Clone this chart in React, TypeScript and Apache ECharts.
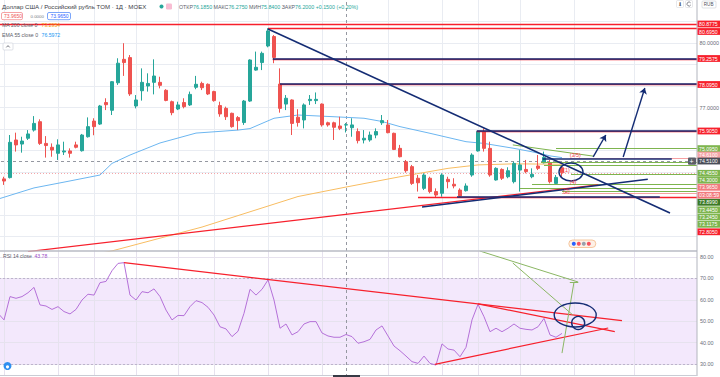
import React, { useEffect, useRef } from "react";
import * as echarts from "echarts";

// ---------- data ----------
const SLOT_COUNT = 117; // candles + empty space to the right
const CATEGORIES = Array.from({ length: SLOT_COUNT }, (_, i) => String(i));

// [open, close, low, high]
const CANDLES: [number, number, number, number][] = [
  [74.25, 74.09, 74.0, 74.35],
  [73.68, 73.58, 73.4, 73.78],
  [73.74, 75.38, 73.7, 75.72],
  [75.49, 75.26, 74.95, 75.83],
  [75.3, 75.44, 74.9, 75.64],
  [75.57, 75.77, 75.49, 75.95],
  [75.95, 76.26, 75.88, 76.6],
  [76.34, 75.33, 75.26, 76.45],
  [75.33, 75.23, 74.67, 75.67],
  [75.15, 75.02, 74.71, 75.33],
  [74.87, 75.26, 74.56, 75.52],
  [74.93, 74.98, 74.79, 75.41],
  [74.98, 74.87, 74.67, 75.1],
  [75.26, 75.15, 75.1, 75.41],
  [74.99, 75.72, 74.95, 75.77],
  [75.64, 76.11, 75.6, 76.54],
  [76.37, 76.11, 75.71, 76.5],
  [76.23, 77.07, 76.19, 77.12],
  [77.23, 77.13, 76.88, 77.43],
  [76.87, 78.2, 76.65, 78.23],
  [78.15, 79.06, 78.05, 79.29],
  [79.24, 79.09, 78.47, 79.99],
  [79.32, 77.63, 77.54, 79.44],
  [77.07, 77.35, 76.96, 77.58],
  [77.78, 78.17, 77.32, 78.82],
  [78.0, 78.12, 77.74, 78.59],
  [78.17, 78.465, 77.61, 79.24],
  [78.17, 78.03, 77.89, 78.43],
  [77.8, 77.33, 77.29, 77.85],
  [77.27, 76.76, 76.64, 77.32],
  [76.93, 77.12, 76.88, 77.27],
  [77.23, 77.04, 76.96, 77.43],
  [77.12, 77.61, 77.07, 77.74],
  [77.94, 78.08, 77.85, 78.47],
  [78.12, 77.92, 77.81, 78.2],
  [78.08, 77.63, 77.58, 78.12],
  [77.74, 77.32, 77.27, 77.78],
  [77.09, 76.7, 76.57, 77.27],
  [76.96, 76.57, 76.42, 77.04],
  [76.73, 76.11, 76.06, 76.76],
  [76.53, 76.39, 75.95, 76.6],
  [76.3, 77.3, 76.19, 77.35],
  [77.3, 79.21, 77.26, 79.24],
  [78.74, 78.87, 78.71, 79.6],
  [79.09, 79.52, 78.74, 79.6],
  [79.86, 80.56, 79.8, 80.69],
  [80.3, 79.33, 79.06, 80.37],
  [78.09, 76.96, 76.76, 78.82],
  [77.16, 77.43, 76.88, 77.58],
  [77.35, 76.26, 75.72, 77.38],
  [76.55, 76.3, 76.11, 76.92],
  [76.42, 77.12, 76.03, 77.19],
  [77.32, 77.38, 77.12, 77.58],
  [77.32, 77.38, 77.16, 77.7],
  [77.16, 76.19, 76.11, 77.19],
  [76.29, 76.19, 76.11, 76.34],
  [76.29, 76.08, 75.49, 76.34],
  [76.14, 76.03, 75.95, 76.57],
  [76.185, 76.2, 75.84, 76.275],
  [76.06, 76.19, 75.64, 76.5],
  [75.88, 75.46, 75.33, 76.03],
  [75.49, 75.57, 75.33, 75.95],
  [75.49, 75.72, 75.41, 75.88],
  [75.72, 75.88, 75.57, 76.03],
  [76.29, 76.39, 76.19, 76.65],
  [76.19, 75.83, 75.8, 76.42],
  [75.8, 75.05, 75.02, 75.83],
  [75.1, 74.71, 74.68, 75.26],
  [74.48, 74.06, 73.97, 74.56],
  [74.25, 73.47, 73.4, 74.33],
  [73.71, 73.5, 73.09, 73.86],
  [73.24, 73.86, 73.16, 73.94],
  [73.71, 73.09, 73.01, 73.78],
  [73.09, 72.93, 72.805, 73.24],
  [73.01, 73.86, 72.85, 73.94],
  [73.66, 73.55, 73.24, 73.78],
  [73.43, 73.35, 73.24, 73.71],
  [73.16, 72.88, 72.81, 73.24],
  [73.13, 73.35, 73.09, 73.47],
  [73.86, 74.79, 73.78, 74.87],
  [74.98, 75.88, 74.95, 75.905],
  [75.88, 75.1, 74.95, 76.03],
  [75.1, 73.86, 73.78, 75.41],
  [73.63, 74.17, 73.6, 74.22],
  [74.12, 73.71, 73.63, 74.17],
  [73.78, 74.06, 73.71, 74.22],
  [73.55, 74.4, 73.47, 74.48],
  [74.09, 74.33, 73.09, 75.02],
  [74.12, 74.02, 73.94, 74.56],
  [73.78, 73.89, 73.71, 74.17],
  [74.28, 74.17, 74.09, 74.79],
  [74.43, 74.68, 74.4, 74.95],
  [74.43, 73.55, 73.47, 74.56],
  [73.47, 73.75, 73.44, 73.86],
  [74.2, 73.965, 73.8, 74.25],
];

const RSI_VALUES: number[] = [
  53.7, 50.6, 61.5, 60.7, 61.5, 63.3, 65.8, 57.6, 57.1, 55.5,
  56.8, 54.5, 53.4, 55.5, 59.9, 62.6, 62.2, 68.0, 68.6, 73.6,
  77.0, 77.35, 62.2, 59.9, 63.8, 63.3, 65.1, 61.5, 55.2, 50.6,
  52.7, 52.6, 56.8, 59.6, 58.7, 56.5, 52.9, 47.4, 46.4, 42.8,
  45.3, 53.7, 64.9, 62.2, 64.9, 69.3, 59.9, 46.7, 48.7, 43.6,
  45.1, 48.7, 49.8, 49.8, 44.5, 43.1, 42.5, 42.5, 43.78, 42.8,
  39.7, 40.4, 41.5, 45.9, 47.8, 43.1, 38.4, 36.2, 33.7, 31.1,
  30.3, 33.7, 30.3, 29.5, 39.4, 37.0, 36.5, 33.4, 37.8, 50.6,
  57.9, 52.1, 45.1, 46.7, 45.1, 46.7, 48.7, 46.7, 46.2, 45.9,
  47.4, 51.3, 43.6, 42.5, 44.3,
];

// [bar index, value]
const EMA55: [number, number][] = [
  [0, 72.74], [6, 73.26], [11, 73.53], [17, 73.86], [19, 74.4], [22, 74.79],
  [27, 75.35], [33, 75.81], [40, 75.95], [42, 76.02], [46, 76.5], [50, 76.65],
  [56, 76.57], [61, 76.5], [64, 76.35], [67, 76.11], [72, 75.8], [78, 75.41],
  [81, 75.33], [86, 75.1], [89, 74.94], [92, 74.75], [94, 74.67],
];
const MA200: [number, number][] = [
  [12, 69.95], [19, 70.33], [34, 71.44], [50, 72.86], [58, 73.3], [67, 73.78],
  [75, 74.17], [80, 74.33], [86, 74.38], [94, 74.36],
];

const PRICE_GRID = [71, 72, 73, 74, 75, 76, 77, 78, 79, 80, 81];
const PRICE_LABELS = [72, 73, 74, 75, 76, 77, 78, 79, 80, 81];
const RSI_GRID = [30, 40, 50, 60, 70, 80];
const VGRID = [1, 10, 16, 23, 30, 36, 45, 54, 65, 74, 80, 87, 96, 106];

const CROSS_BAR = 58;
const CROSS_PRICE = 74.51;
const LAST_PRICE = 73.965;

// user drawings, in [bar index, price]
const NAVY_SEGMENTS: [number, number][][] = [
  [[45, 80.65], [112, 72.09]],
  [[45.8, 79.285], [116.5, 79.285]],
  [[47, 78.12], [116.5, 78.12]],
  [[79.8, 75.93], [116.5, 75.93]],
  [[90.8, 74.62], [112.3, 74.62]],
  [[70.67, 72.37], [108.3, 73.66]],
  [[76.5, 72.83], [110.3, 72.83]],
];
const RED_SEGMENTS: [number, number][][] = [
  [[-0.5, 80.8775], [116.5, 80.8775]],
  [[45, 80.695], [116.5, 80.695]],
  [[45.8, 79.2575], [116.5, 79.2575]],
  [[47, 78.095], [116.5, 78.095]],
  [[79.8, 75.905], [116.5, 75.905]],
  [[70, 72.805], [116.5, 72.805]],
  [[5, 70.3], [100, 73.4]],
];
const PINK_SEGMENTS: [number, number][][] = [
  [[95.3, 74.66], [116.5, 74.66]],
  [[94, 73.01], [116.5, 73.01]],
];
const GREEN_SEGMENTS: [number, number][][] = [
  [[93, 75.095], [116.5, 75.095]],
  [[90.5, 74.455], [116.5, 74.455]],
  [[91, 74.3], [116.5, 74.3]],
  [[95.5, 73.899], [116.5, 73.899]],
  [[89, 73.445], [116.5, 73.445]],
  [[87, 73.245], [116.5, 73.245]],
  [[94, 73.1175], [116.5, 73.1175]],
  [[85.8, 75.26], [99.2, 74.74]],
];
const ARROW_SEGMENTS: [number, number][][] = [
  [[99.2, 74.7], [101.3, 75.72]],
  [[104.2, 74.7], [107.8, 77.91]],
];
const NOTES: { text: string; at: [number, number] }[] = [
  { text: "(3/5)", at: [95.3, 74.79] },
  { text: "(1)", at: [94.2, 74.09] },
  { text: "(4)", at: [95.3, 73.53] },
  { text: "(2)", at: [94.2, 73.12] },
];
const MAIN_LOOP: [number, number] = [95.5, 74.0];

// RSI drawings, in [bar index, rsi]
const RSI_RED_SEGMENTS: [number, number][][] = [
  [[21, 77.34], [104, 50.23]],
  [[80, 58.1], [102.8, 45.1]],
  [[72.8, 29.86], [101.7, 46.82]],
];
const RSI_GREEN_SEGMENTS: [number, number][][] = [
  [[80.3, 82.8], [96.7, 68.3]],
  [[85.8, 77.2], [95.8, 52.9]],
  [[94, 35.1], [96, 68.3]],
  [[95.3, 68.3], [96.7, 68.3]],
];
const RSI_LOOP_BIG: [number, number] = [96.2, 52.9];
const RSI_LOOP_SMALL: [number, number] = [96.7, 49.2];

// price tags on the right scale
const PRICE_TAGS: { text: string; kind: string }[] = [
  { text: "80.8775", kind: "red" },
  { text: "80.6950", kind: "red" },
  { text: "79.2575", kind: "red" },
  { text: "78.0950", kind: "red" },
  { text: "75.9050", kind: "red" },
  { text: "75.0950", kind: "green" },
  { text: "74.6100", kind: "pink" },
  { text: "74.4550", kind: "green" },
  { text: "74.3000", kind: "green" },
  { text: "73.9650", kind: "cur" },
  { text: "03:08:59", kind: "cur" },
  { text: "73.8990", kind: "dkgreen" },
  { text: "73.4450", kind: "green" },
  { text: "73.2450", kind: "green" },
  { text: "73.1175", kind: "green" },
  { text: "72.8050", kind: "red" },
];
// stacked display positions (labels pushed apart by the scale)
const TAG_Y = [24, 31.5, 58.5, 84.5, 131, 148.6, 155.0, 173.3, 180.2, 187.3, 195.2, 202.3, 209.8, 217, 224.3, 231.8];

const TITLE = "Доллар США / Российский рубль TOM · 1Д · MOEX";
const OHLC: [string, string][] = [
  ["ОТКР", "76.1850"],
  ["МАКС", "76.2750"],
  ["МИН", "75.8400"],
  ["ЗАКР", "76.2000"],
];
const CHANGE = "+0.1500 (+0.20%)";

// ---------- layout / style ----------
const MAIN_MIN = 70.326;
const MAIN_MAX = 82.0;
const RSI_MIN = 23.93;
const RSI_MAX = 82.8;
const X_MIN = -0.5;
const X_MAX = SLOT_COUNT - 0.5;
const FF = "'Liberation Sans', Arial, sans-serif";
const NAVY = "#142c74";
const RED = "#f7202c";
const GREEN = "#7db44e";
const PINK = "#f6a0a2";
const GRIDC = "#e9ecf2";
const TAG_H = 6.8;
const TAG_COLORS: Record<string, string> = {
  red: "#f7202c",
  green: "#7eb54f",
  pink: "#f4a3a6",
  cur: "#f27a7e",
  dkgreen: "#3b7a26",
};

const seg = (list: [number, number][][]) => list.map((c) => ({ coords: c }));

function linesSeries(
  data: any[],
  color: string,
  width: number,
  xi: number,
  yi: number,
  z: number,
  extra: any = {}
) {
  return {
    type: "lines",
    coordinateSystem: "cartesian2d",
    xAxisIndex: xi,
    yAxisIndex: yi,
    silent: true,
    z,
    symbol: ["none", "none"],
    lineStyle: { color, width, opacity: 1, ...(extra.lineStyle || {}) },
    data,
    ...(extra.rest || {}),
  };
}

function buildOption(): any {
  const mainGrid = [
    ...PRICE_GRID.map((v) => ({ coords: [[X_MIN, v], [X_MAX, v]] })),
    ...VGRID.map((i) => ({ coords: [[i, MAIN_MIN], [i, MAIN_MAX]] })),
  ];
  const rsiGrid = [
    ...RSI_GRID.map((v) => ({ coords: [[X_MIN, v], [X_MAX, v]] })),
    ...VGRID.map((i) => ({ coords: [[i, RSI_MIN], [i, RSI_MAX]] })),
  ];
  return {
    animation: false,
    backgroundColor: "#ffffff",
    grid: [
      { left: -5, top: 0, width: 702, height: 251, outerBoundsMode: "none" },
      { left: -5, top: 251, width: 702, height: 126, outerBoundsMode: "none" },
    ],
    xAxis: [
      { type: "category", gridIndex: 0, data: CATEGORIES, boundaryGap: true, show: false },
      { type: "value", gridIndex: 0, min: X_MIN, max: X_MAX, show: false },
      { type: "value", gridIndex: 1, min: X_MIN, max: X_MAX, show: false },
    ],
    yAxis: [
      { type: "value", gridIndex: 0, min: MAIN_MIN, max: MAIN_MAX, show: false },
      { type: "value", gridIndex: 1, min: RSI_MIN, max: RSI_MAX, show: false },
    ],
    series: [
      linesSeries(mainGrid, GRIDC, 1, 1, 0, 1),
      linesSeries(rsiGrid, "#e6e2ee", 1, 2, 1, 1),
      {
        type: "candlestick",
        xAxisIndex: 0,
        yAxisIndex: 0,
        barWidth: 3.6,
        z: 3,
        silent: true,
        itemStyle: {
          color: "#26a69a",
          color0: "#ef5350",
          borderColor: "#26a69a",
          borderColor0: "#ef5350",
          borderWidth: 1,
        },
        data: CANDLES,
      },
      {
        type: "line",
        xAxisIndex: 1,
        yAxisIndex: 0,
        data: EMA55,
        showSymbol: false,
        z: 2,
        silent: true,
        lineStyle: { color: "#6cb6f0", width: 1 },
      },
      {
        type: "line",
        xAxisIndex: 1,
        yAxisIndex: 0,
        data: MA200,
        showSymbol: false,
        z: 2,
        silent: true,
        lineStyle: { color: "#f8bd62", width: 1 },
      },
      linesSeries([{ coords: [[X_MIN, LAST_PRICE], [X_MAX, LAST_PRICE]] }], "#f5a5a8", 1, 1, 0, 2, {
        lineStyle: { type: [1, 2] },
      }),
      linesSeries(
        [
          { coords: [[X_MIN, CROSS_PRICE], [X_MAX, CROSS_PRICE]] },
          { coords: [[CROSS_BAR, MAIN_MIN], [CROSS_BAR, MAIN_MAX]] },
        ],
        "#9598a1",
        1,
        1,
        0,
        2,
        { lineStyle: { type: [3, 3] } }
      ),
      linesSeries([{ coords: [[CROSS_BAR, RSI_MIN], [CROSS_BAR, RSI_MAX]] }], "#9598a1", 1, 2, 1, 2, {
        lineStyle: { type: [3, 3] },
      }),
      linesSeries(seg(GREEN_SEGMENTS), GREEN, 1, 1, 0, 4),
      linesSeries(seg(PINK_SEGMENTS), PINK, 1, 1, 0, 4),
      linesSeries(seg(RED_SEGMENTS), RED, 1.3, 1, 0, 5),
      linesSeries(seg(NAVY_SEGMENTS), NAVY, 1.6, 1, 0, 6),
      linesSeries(seg(ARROW_SEGMENTS), NAVY, 1.4, 1, 0, 6, {
        rest: { symbol: ["none", "arrow"], symbolSize: 6 },
      }),
      // RSI
      linesSeries(
        [{ coords: [[X_MIN, 70], [X_MAX, 70]] }, { coords: [[X_MIN, 30], [X_MAX, 30]] }],
        "#bdb3cc",
        1,
        2,
        1,
        2,
        { lineStyle: { type: [2, 2] } }
      ),
      {
        type: "line",
        xAxisIndex: 2,
        yAxisIndex: 1,
        data: RSI_VALUES.map((v, i) => [i, v]),
        showSymbol: false,
        z: 3,
        silent: true,
        lineStyle: { color: "#b571d9", width: 1 },
      },
      linesSeries(seg(RSI_RED_SEGMENTS), RED, 1.2, 2, 1, 5),
      linesSeries(seg(RSI_GREEN_SEGMENTS), "#8bb764", 1, 2, 1, 5),
    ],
  };
}

function txt(x: number, y: number, text: string, fill: string, size: number, extra: any = {}) {
  return {
    type: "text",
    x,
    y,
    z: 60,
    silent: true,
    style: {
      text,
      fill,
      fontSize: size,
      fontFamily: FF,
      verticalAlign: "middle",
      align: "left",
      ...extra,
    },
  };
}

function buildGraphics(chart: any) {
  const P = (x: number, y: number) => chart.convertToPixel({ xAxisIndex: 1, yAxisIndex: 0 }, [x, y]);
  const R = (x: number, y: number) => chart.convertToPixel({ xAxisIndex: 2, yAxisIndex: 1 }, [x, y]);
  const els: any[] = [];

  // RSI background band 30..70
  const b1 = R(X_MIN, 70);
  const b2 = R(X_MAX, 30);
  els.push({
    type: "rect",
    z: 0,
    silent: true,
    shape: { x: Math.max(0, b1[0]), y: b1[1], width: b2[0] - Math.max(0, b1[0]), height: b2[1] - b1[1] },
    style: { fill: "#f3e8fc" },
  });

  // pane separators & scale border
  els.push({ type: "line", z: 40, silent: true, shape: { x1: 0, y1: 251, x2: 697, y2: 251 }, style: { stroke: "#b8bbc4", lineWidth: 1.5 } });
  els.push({ type: "line", z: 40, silent: true, shape: { x1: 697, y1: 0, x2: 697, y2: 377 }, style: { stroke: "#b2b5be", lineWidth: 1 } });
  els.push({ type: "line", z: 40, silent: true, shape: { x1: 0, y1: 375.5, x2: 697, y2: 375.5 }, style: { stroke: "#c9ccd4", lineWidth: 1 } });
  els.push({ type: "rect", z: 40, silent: true, shape: { x: 0, y: 376, width: 720, height: 1 }, style: { fill: "#ffffff" } });
  const cx = P(CROSS_BAR, MAIN_MIN)[0];
  els.push({ type: "rect", z: 41, silent: true, shape: { x: cx - 13, y: 375, width: 27, height: 2 }, style: { fill: "#363a45" } });

  // gray scale labels (hidden where a coloured tag sits on top of them)
  const crossY = P(0, CROSS_PRICE)[1];
  const occupied = [...TAG_Y, crossY];
  const lowestTag = Math.max(...TAG_Y);
  PRICE_LABELS.forEach((v) => {
    let y = P(0, v)[1];
    const hit = occupied.some((ty) => Math.abs(ty - y) < TAG_H);
    if (hit) {
      if (y > lowestTag) y = lowestTag + TAG_H / 2 + 3.2;
      else return;
    }
    els.push(txt(699.5, y, v.toFixed(4), "#6a6d78", 5.4, {}));
  });
  RSI_GRID.forEach((v) => {
    const y = R(0, v)[1];
    els.push(txt(700, y, v.toFixed(2), "#6a6d78", 5.4, {}));
  });

  // colored price tags
  PRICE_TAGS.forEach((tag, i) => {
    const y = TAG_Y[i];
    els.push({
      type: "rect",
      z: 62,
      silent: true,
      shape: { x: 697.5, y: y - TAG_H / 2, width: 22.5, height: TAG_H },
      style: { fill: TAG_COLORS[tag.kind] },
    });
    els.push({ ...txt(699, y, tag.text, "#ffffff", 5.2), z: 63 });
  });
  // crosshair tag
  els.push({ type: "rect", z: 64, silent: true, shape: { x: 697.5, y: crossY - 3.4, width: 22.5, height: 6.8 }, style: { fill: "#4a4e59" } });
  els.push({ ...txt(699, crossY, CROSS_PRICE.toFixed(4), "#ffffff", 5.2), z: 65 });
  els.push({ type: "rect", z: 64, silent: true, shape: { x: 688, y: crossY - 3.6, width: 8, height: 7.2, r: 1 }, style: { fill: "#5b5e69" } });
  els.push({ ...txt(689.6, crossY + 0.3, "+", "#ffffff", 7), z: 65 });

  // header
  els.push(txt(2, 6.5, TITLE, "#3b3e48", 6.1));
  els.push({ type: "circle", z: 60, silent: true, shape: { cx: 161.5, cy: 6.5, r: 2 }, style: { fill: "#26a69a" } });
  els.push({ type: "rect", z: 60, silent: true, shape: { x: 166, y: 3.5, width: 6, height: 6, r: 1.2 }, style: { fill: "#f8bdd3" } });
  let ohlcText = "";
  OHLC.forEach(([k, v]) => {
    ohlcText += `{l|${k}}{v|${v}} `;
  });
  ohlcText += `{v|${CHANGE}}`;
  els.push({
    type: "text",
    x: 179,
    y: 6.5,
    z: 60,
    silent: true,
    style: {
      text: ohlcText,
      fontSize: 5.3,
      fontFamily: FF,
      verticalAlign: "middle",
      fill: "#555",
      rich: {
        l: { fill: "#5d606b", fontSize: 5.3, fontFamily: FF },
        v: { fill: "#26a69a", fontSize: 5.3, fontFamily: FF },
      },
    },
  });
  // bid / ask boxes
  els.push({ type: "rect", z: 60, silent: true, shape: { x: 1.5, y: 12.5, width: 21, height: 7.2, r: 1.5 }, style: { fill: "#fff", stroke: "#f28b8e", lineWidth: 0.8 } });
  els.push(txt(4, 16.2, "73.9650", "#ef5350", 5));
  els.push(txt(30.5, 16.2, "0.0000", "#777a85", 4.4));
  els.push({ type: "rect", z: 60, silent: true, shape: { x: 47.5, y: 12.5, width: 23, height: 7.2, r: 1.5 }, style: { fill: "#fff", stroke: "#5b8ff9", lineWidth: 0.8 } });
  els.push(txt(50.5, 16.2, "73.9650", "#2962ff", 5));
  // indicator legends
  els.push(txt(2, 25.2, "MA 200 close 0", "#5d606b", 5.2));
  els.push(txt(41.5, 25.2, "73.2954", "#f59e0b", 5.2));
  els.push(txt(2, 34.5, "EMA 55 close 0", "#5d606b", 5.2));
  els.push(txt(41.5, 34.5, "76.5972", "#2196f3", 5.2));
  els.push({ type: "rect", z: 60, silent: true, shape: { x: 3, y: 43, width: 10, height: 7, r: 1 }, style: { fill: "#fff", stroke: "#d1d4dc", lineWidth: 0.7 } });
  els.push({ type: "polyline", z: 61, silent: true, shape: { points: [[6.3, 47.4], [8, 45.6], [9.7, 47.4]] }, style: { fill: "none", stroke: "#50535e", lineWidth: 0.8 } });
  // RSI legend
  els.push(txt(3, 256, "RSI 14 close", "#5d606b", 5.1));
  els.push(txt(34.5, 256, "43.78", "#9c4fc7", 5.1));
  els.push({ type: "circle", z: 60, silent: true, shape: { cx: 7.5, cy: 366, r: 4 }, style: { fill: "#2f8ff0" } });
  els.push({ type: "circle", z: 61, silent: true, shape: { cx: 7.5, cy: 366.8, r: 1.6 }, style: { fill: "#ffffff" } });

  // top-right buttons
  els.push({ type: "rect", z: 60, silent: true, shape: { x: 676.5, y: 0.5, width: 7, height: 7, r: 1 }, style: { fill: "#fff", stroke: "#d6d8de", lineWidth: 0.6 } });
  els.push(txt(678, 4.2, "⬇", "#50535e", 5));
  els.push({ type: "rect", z: 60, silent: true, shape: { x: 685.5, y: 0.5, width: 7, height: 7, r: 1 }, style: { fill: "#fff", stroke: "#d6d8de", lineWidth: 0.6 } });
  els.push({ type: "arc", z: 61, silent: true, shape: { cx: 689, cy: 4, r: 2, startAngle: 0.5, endAngle: 5.6 }, style: { fill: "none", stroke: "#50535e", lineWidth: 0.7 } });
  els.push({ type: "rect", z: 60, silent: true, shape: { x: 702, y: 1, width: 14, height: 7, r: 1 }, style: { fill: "#fff", stroke: "#c9ccd4", lineWidth: 0.6 } });
  els.push(txt(703.8, 4.6, "RUB", "#50535e", 4.6));

  // events marker
  const ev = P(97.3, MAIN_MIN);
  els.push({ type: "rect", z: 60, silent: true, shape: { x: ev[0] - 13, y: ev[1] - 11, width: 27, height: 7.5, r: 3.7 }, style: { fill: "#fdf0e6", stroke: "#f2b27a", lineWidth: 0.7 } });
  [[-8, "#2962ff"], [-3, "#f7525f"], [2, "#9aa0ab"], [7, "#f7525f"]].forEach(([dx, c]: any) => {
    els.push({ type: "circle", z: 61, silent: true, shape: { cx: ev[0] + dx, cy: ev[1] - 7.2, r: 2 }, style: { fill: c } });
  });

  // hand-drawn loops
  const ml = P(MAIN_LOOP[0], MAIN_LOOP[1]);
  els.push({ type: "ellipse", z: 30, silent: true, shape: { cx: ml[0], cy: ml[1], rx: 12, ry: 9 }, style: { fill: "none", stroke: NAVY, lineWidth: 1.4 } });
  const lb = R(RSI_LOOP_BIG[0], RSI_LOOP_BIG[1]);
  els.push({ type: "ellipse", z: 30, silent: true, shape: { cx: lb[0], cy: lb[1], rx: 21, ry: 12 }, style: { fill: "none", stroke: NAVY, lineWidth: 1.4 } });
  const ls = R(RSI_LOOP_SMALL[0], RSI_LOOP_SMALL[1]);
  els.push({ type: "circle", z: 30, silent: true, shape: { cx: ls[0], cy: ls[1], r: 6.5 }, style: { fill: "none", stroke: NAVY, lineWidth: 1.4 } });

  // red wave notes
  NOTES.forEach((n) => {
    const p = P(n.at[0], n.at[1]);
    els.push(txt(p[0], p[1], n.text, "#f23645", 5.4));
  });

  return els;
}

export default function App() {
  const ref = useRef<HTMLDivElement>(null);
  useEffect(() => {
    document.body.style.margin = "0";
    const chart = echarts.init(ref.current as HTMLDivElement, undefined, {
      renderer: "svg",
      width: 720,
      height: 377,
    });
    chart.setOption(buildOption());
    chart.setOption({ graphic: { elements: buildGraphics(chart) } });
    return () => chart.dispose();
  }, []);
  return <div ref={ref} style={{ width: 720, height: 377 }} />;
}
